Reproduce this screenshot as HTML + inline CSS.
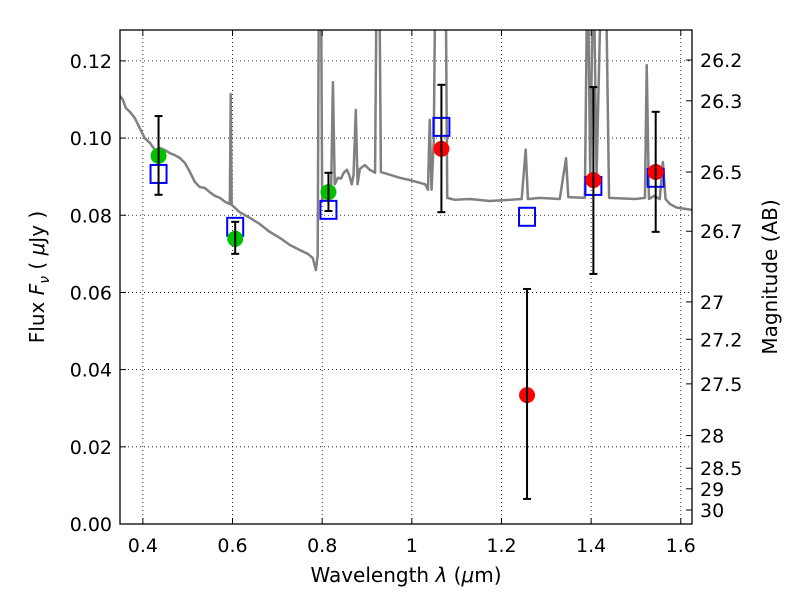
<!DOCTYPE html>
<html><head><meta charset="utf-8"><style>
body{margin:0;background:#fff;}
svg text{font-family:"DejaVu Sans","Liberation Sans",sans-serif;fill:#000;}
</style></head><body>
<svg id="chart" width="800" height="600" xmlns="http://www.w3.org/2000/svg">
<defs><clipPath id="clip"><rect x="120" y="30" width="572" height="494"/></clipPath></defs>
<rect x="0" y="0" width="800" height="600" fill="#fff"/>
<g id="grid"></g>
<g id="spec" clip-path="url(#clip)"></g>
<g id="marks" clip-path="url(#clip)"></g>
<g id="axes"></g>
<text x="406" y="582" font-size="20" text-anchor="middle">Wavelength  <tspan font-style="italic">λ</tspan> (<tspan font-style="italic">μ</tspan>m)</text>
<text transform="translate(44,277) rotate(-90)" font-size="20" text-anchor="middle">Flux  <tspan font-style="italic">F</tspan><tspan font-style="italic" font-size="14" dy="5">ν</tspan><tspan dy="-5">  ( </tspan><tspan font-style="italic">μ</tspan>Jy )</text>
<text transform="translate(777,277) rotate(-90)" font-size="20" text-anchor="middle">Magnitude (AB)</text>
</svg>
<script>
const specWave=[0.349,0.355,0.362,0.371,0.382,0.393,0.404,0.416,0.427,0.438,0.449,0.460,0.471,0.483,0.494,0.505,0.516,0.527,0.538,0.549,0.561,0.572,0.583,0.594,0.596,0.598,0.616,0.639,0.661,0.683,0.706,0.728,0.750,0.768,0.779,0.786,0.790,0.793,0.797,0.800,0.806,0.815,0.820,0.824,0.828,0.835,0.842,0.848,0.855,0.860,0.866,0.870,0.875,0.879,0.884,0.895,0.906,0.918,0.922,0.927,0.931,0.951,0.973,0.996,1.018,1.030,1.036,1.040,1.044,1.049,1.053,1.075,1.079,1.096,1.129,1.174,1.219,1.245,1.254,1.259,1.286,1.330,1.344,1.349,1.386,1.392,1.398,1.405,1.412,1.424,1.432,1.440,1.498,1.520,1.524,1.529,1.540,1.553,1.560,1.566,1.575,1.590,1.625];
const specFlux=[0.1109,0.1100,0.1078,0.1068,0.1052,0.1026,0.1000,0.0987,0.0969,0.0974,0.0969,0.0961,0.0956,0.0948,0.0935,0.0912,0.0886,0.0873,0.0871,0.0860,0.0850,0.0845,0.0835,0.0829,0.1114,0.0827,0.0808,0.0793,0.0777,0.0757,0.0741,0.0723,0.0710,0.0700,0.0689,0.0658,0.0697,0.15,0.15,0.0840,0.0853,0.0860,0.0870,0.1145,0.0880,0.0897,0.0895,0.0910,0.0918,0.0905,0.0880,0.0905,0.1073,0.0880,0.0920,0.0930,0.0918,0.0910,0.15,0.15,0.0912,0.0905,0.0897,0.0891,0.0884,0.0880,0.0866,0.1047,0.0866,0.0995,0.15,0.15,0.0845,0.0840,0.0842,0.0837,0.0840,0.0842,0.0970,0.0842,0.0845,0.0842,0.0948,0.0847,0.0845,0.15,0.0900,0.15,0.0900,0.15,0.15,0.0845,0.0842,0.0845,0.1189,0.0842,0.0850,0.0842,0.0938,0.0842,0.0830,0.0820,0.0814];
const bandWave=[0.435,0.606,0.814,1.066,1.257,1.405,1.544];
const modelFlux=[0.0907,0.0770,0.0814,0.1029,0.0796,0.0876,0.0897];
const obsFlux=[0.0954,0.0739,0.0860,0.0972,0.0334,0.0891,0.0912];
const obsLo=[0.0853,0.0700,0.0811,0.0808,0.0065,0.0648,0.0757];
const obsHi=[0.1057,0.0783,0.0910,0.1138,0.0609,0.1132,0.1068];
const obsColor=['#00c000','#00c000','#00c000','#ff0000','#ff0000','#ff0000','#ff0000'];
const xTicks=[0.4,0.6,0.8,1.0,1.2,1.4,1.6];
const xTickLabels=['0.4','0.6','0.8','1','1.2','1.4','1.6'];
const yTicks=[0,0.02,0.04,0.06,0.08,0.10,0.12];
const yTickLabels=['0.00','0.02','0.04','0.06','0.08','0.10','0.12'];
const magTicks=[26.2,26.3,26.5,26.7,27,27.2,27.5,28,28.5,29,30];
const magTickLabels=['26.2','26.3','26.5','26.7','27','27.2','27.5','28','28.5','29','30'];

const L=120,R=692,T=30,B=524,X0=0.349,X1=1.625,Y0=0,Y1=0.128;
const sx=v=>L+(v-X0)/(X1-X0)*(R-L);
const sy=v=>B-(v-Y0)/(Y1-Y0)*(B-T);
const NS='http://www.w3.org/2000/svg';
function mk(tag,attrs,parent){const e=document.createElementNS(NS,tag);for(const k in attrs)e.setAttribute(k,attrs[k]);parent.appendChild(e);return e;}
const grid=document.getElementById('grid'),spec=document.getElementById('spec'),marks=document.getElementById('marks'),axes=document.getElementById('axes');

xTicks.forEach((t,i)=>{
  const gl=mk('line',{x1:sx(t),x2:sx(t),y1:T,y2:B,stroke:'#000','stroke-width':0.8,'stroke-dasharray':'1,3'},grid);
  
  
  mk('line',{x1:sx(t),x2:sx(t),y1:B,y2:B-6,stroke:'#000'},axes);
  mk('line',{x1:sx(t),x2:sx(t),y1:T,y2:T+6,stroke:'#000'},axes);
  const tx=mk('text',{x:sx(t),y:B+28,'font-size':19,'text-anchor':'middle'},axes);
  tx.textContent=xTickLabels[i];
  
  
});
yTicks.forEach((t,i)=>{
  const gl=mk('line',{x1:L,x2:R,y1:sy(t),y2:sy(t),stroke:'#000','stroke-width':0.8,'stroke-dasharray':'1,3'},grid);
  
  
  mk('line',{x1:L,x2:L+6,y1:sy(t),y2:sy(t),stroke:'#000'},axes);
  const tx=mk('text',{x:L-8,y:sy(t)+7,'font-size':19,'text-anchor':'end'},axes);
  tx.textContent=yTickLabels[i];
  
  
});
magTicks.forEach((m,i)=>{
  const f=Math.pow(10,(23.9-m)/2.5);
  const y=sy(f);
  mk('line',{x1:R,x2:R-6,y1:y,y2:y,stroke:'#000'},axes);
  const tx=mk('text',{x:R+8,y:y+7,'font-size':19},axes);
  tx.textContent=magTickLabels[i];
  
  
});
const sp=mk('polyline',{points:specWave.map((w,i)=>sx(w)+','+sy(specFlux[i])).join(' '),fill:'none',stroke:'#808080','stroke-width':2.5,'stroke-linejoin':'round'},spec);



bandWave.forEach((w,i)=>{
  const x=sx(w);
  const sq=mk('rect',{x:x-8,y:sy(modelFlux[i])-9,width:16,height:18,fill:'none',stroke:'#0000ff','stroke-width':2},marks);
  
  
  const eb=mk('g',{stroke:'#000','stroke-width':2},marks);
  
  
  mk('line',{x1:x,x2:x,y1:sy(obsHi[i]),y2:sy(obsLo[i])},eb);
  mk('line',{x1:x-4,x2:x+4,y1:sy(obsHi[i]),y2:sy(obsHi[i])},eb);
  mk('line',{x1:x-4,x2:x+4,y1:sy(obsLo[i]),y2:sy(obsLo[i])},eb);
  const c=mk('circle',{cx:x,cy:sy(obsFlux[i]),r:8,fill:obsColor[i]},marks);
  
  
  mk('line',{x1:x,x2:x,y1:sy(obsFlux[i])-8,y2:sy(obsFlux[i])+8,stroke:'#000','stroke-width':2},marks);
});
const fr=mk('rect',{x:L,y:T,width:R-L,height:B-T,fill:'none',stroke:'#000','stroke-width':1.3},axes);


</script>
</body></html>
